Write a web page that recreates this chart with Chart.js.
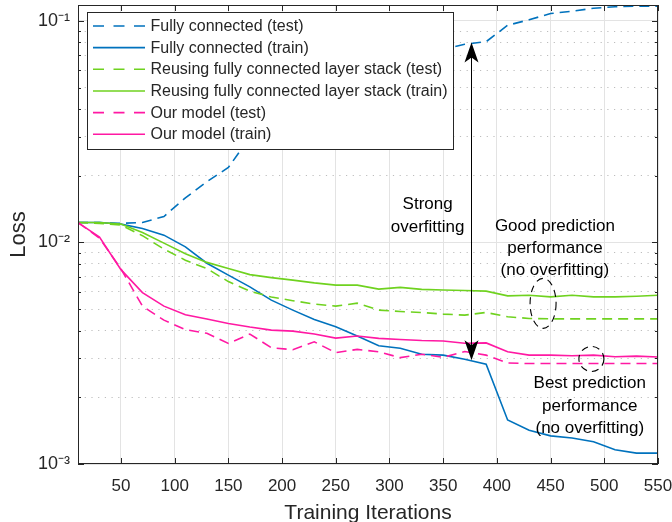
<!DOCTYPE html>
<html><head><meta charset="utf-8">
<script src="https://cdn.jsdelivr.net/npm/chart.js@4"></script>
<style>html,body{margin:0;padding:0;background:#fff}canvas{display:block}</style>
</head><body>
<canvas id="c" width="672" height="522"></canvas>
<script>
// ---- data ----
const iterations = [10,30,50,70,90,110,130,150,170,190,210,230,250,270,290,310,330,350,370,390,410,430,450,470,490,510,530,550];
const fcTest = [0.0123,0.0123,0.0122,0.0123,0.0131,0.0159,0.0188,0.0218,0.0299,0.0349,0.0404,0.0462,0.0518,0.0575,0.0631,0.0678,0.0715,0.0742,0.0785,0.0806,0.0956,0.1012,0.108,0.1106,0.1141,0.1159,0.1165,0.1165];
const fcTrain = [0.0123,0.0123,0.0121,0.01156,0.01079,0.00955,0.00806,0.00712,0.0063,0.00549,0.00495,0.00449,0.00416,0.00378,0.00342,0.00333,0.00313,0.0031,0.00297,0.00282,0.00158,0.00142,0.00134,0.00131,0.00126,0.00116,0.00112,0.00112];
const reuseTest = [0.0123,0.0122,0.01197,0.01073,0.00933,0.00832,0.00762,0.00666,0.00603,0.00567,0.00546,0.00527,0.00516,0.00532,0.00495,0.00488,0.00483,0.00475,0.0047,0.00483,0.00462,0.00454,0.00452,0.00452,0.00452,0.00452,0.00452,0.00452];
const reuseTrain = [0.0123,0.0123,0.0121,0.0111,0.00993,0.00889,0.00813,0.00763,0.00716,0.00694,0.00676,0.00657,0.00642,0.00642,0.00616,0.00627,0.00614,0.0061,0.00607,0.00603,0.00574,0.00578,0.00568,0.00578,0.00568,0.00568,0.00572,0.00578];
const ourTest = [0.0123,0.01046,0.0076,0.00516,0.00446,0.00404,0.00389,0.0035,0.00386,0.00335,0.00328,0.00356,0.00318,0.00329,0.00321,0.00302,0.00313,0.00303,0.00322,0.0031,0.00286,0.00284,0.00284,0.00284,0.00284,0.00284,0.00284,0.00284];
const ourTrain = [0.0123,0.01057,0.00754,0.00594,0.00516,0.00472,0.00451,0.00431,0.00415,0.00402,0.00398,0.00386,0.0037,0.00378,0.00369,0.00365,0.00361,0.00359,0.00351,0.00352,0.00321,0.0031,0.0031,0.00308,0.0031,0.00305,0.00307,0.00304];
const seriesNames = ['Fully connected (test)','Fully connected (train)','Reusing fully connected layer stack (test)','Reusing fully connected layer stack (train)','Our model (test)','Our model (train)'];
const xTickValues = [50,100,150,200,250,300,350,400,450,500,550];
const yTickValues = [0.001,0.002,0.003,0.004,0.005,0.006,0.007,0.008,0.009,0.01,0.02,0.03,0.04,0.05,0.06,0.07,0.08,0.09,0.1];
const yDecadeLabels = {'-3':'10\u207B\u00B3','-2':'10\u207B\u00B2','-1':'10\u207B\u00B9'};
const xTitle = 'Training Iterations';
const yTitle = 'Loss';
// annotations (data coordinates)
const arrowAt = {x: 376, top: 0.0799, bottom: 0.00294};
const noteStrong = {x: 335.5, y: 0.0132, lines: ['Strong','overfitting']};
const noteGood = {x: 454, y: 0.0094, lines: ['Good prediction','performance','(no overfitting)']};
const noteBest = {x: 486.5, y: 0.00183, lines: ['Best prediction','performance','(no overfitting)']};
const ringGood = {x: 443, y: 0.00531};
const ringBest = {x: 488, y: 0.00298};

// ---- styles ----
const BLUE = '#0072BD', GREEN = '#6FD21F', PINK = '#FF19A3', INK = '#262626';
const FONT = "'Liberation Sans', Arial, Helvetica, sans-serif";
const DASH = [10, 6];
Chart.defaults.font.family = FONT;
Chart.defaults.color = INK;

const seriesData = [fcTest, fcTrain, reuseTest, reuseTrain, ourTest, ourTrain];
const seriesColor = [BLUE, BLUE, GREEN, GREEN, PINK, PINK];
const seriesDashed = [true, false, true, false, true, false];

const datasets = seriesData.map((d, i) => ({
  label: seriesNames[i],
  data: iterations.map((t, j) => ({x: t, y: d[j]})),
  borderColor: seriesColor[i],
  backgroundColor: seriesColor[i],
  borderWidth: 1.6,
  borderDash: seriesDashed[i] ? DASH : [],
  pointRadius: 0,
  tension: 0,
  fill: false,
  order: 5 - i
}));

const isDecade = v => Math.abs(Math.log10(v) - Math.round(Math.log10(v))) < 1e-6;

const decor = {
  id: 'decor',
  afterDraw(chart) {
    const {ctx, chartArea: a, scales: {x, y}} = chart;
    ctx.save();
    // box
    ctx.strokeStyle = INK; ctx.lineWidth = 1; ctx.setLineDash([]);
    ctx.strokeRect(Math.round(a.left) + 0.5, Math.round(a.top) + 0.5, Math.round(a.right - a.left) - 1, Math.round(a.bottom - a.top) - 1);
    // inner ticks
    ctx.beginPath();
    xTickValues.forEach(v => {
      const px = Math.round(x.getPixelForValue(v)) + 0.5;
      ctx.moveTo(px, a.top); ctx.lineTo(px, a.top + 6);
      ctx.moveTo(px, a.bottom); ctx.lineTo(px, a.bottom - 6);
    });
    yTickValues.forEach(v => {
      const py = Math.round(y.getPixelForValue(v)) + 0.5;
      const L = isDecade(v) ? 6 : 3;
      ctx.moveTo(a.left, py); ctx.lineTo(a.left + L, py);
      ctx.moveTo(a.right, py); ctx.lineTo(a.right - L, py);
    });
    ctx.stroke();

    // legend
    const lx = 87.5, ly = 12.5, lw = 366, lh = 137;
    ctx.fillStyle = '#fff';
    ctx.fillRect(lx, ly, lw, lh);
    ctx.strokeStyle = INK; ctx.lineWidth = 1;
    ctx.strokeRect(lx, ly, lw, lh);
    ctx.font = '16px ' + FONT;
    ctx.textBaseline = 'middle'; ctx.textAlign = 'left';
    seriesNames.forEach((name, i) => {
      const cy = 26 + i * 21.65;
      ctx.strokeStyle = seriesColor[i]; ctx.lineWidth = 1.6;
      ctx.setLineDash(seriesDashed[i] ? [11, 9.5] : []);
      ctx.beginPath(); ctx.moveTo(93, cy); ctx.lineTo(145, cy); ctx.stroke();
      ctx.setLineDash([]);
      ctx.fillStyle = INK;
      ctx.fillText(name, 150.5, cy + 0.5);
    });

    // double arrow
    const ax = Math.round(x.getPixelForValue(arrowAt.x)) + 0.5;
    const at = y.getPixelForValue(arrowAt.top), ab = y.getPixelForValue(arrowAt.bottom);
    ctx.strokeStyle = '#000'; ctx.fillStyle = '#000'; ctx.lineWidth = 1;
    ctx.beginPath(); ctx.moveTo(ax, at + 10); ctx.lineTo(ax, ab - 10); ctx.stroke();
    const head = (tipY, dir) => {
      ctx.beginPath();
      ctx.moveTo(ax, tipY);
      ctx.lineTo(ax - 7, tipY + dir * 20);
      ctx.lineTo(ax, tipY + dir * 15);
      ctx.lineTo(ax + 7, tipY + dir * 20);
      ctx.closePath(); ctx.fill();
    };
    head(at, 1); head(ab, -1);

    // notes
    ctx.font = '17px ' + FONT; ctx.textAlign = 'center'; ctx.fillStyle = '#000';
    [noteStrong, noteGood, noteBest].forEach(n => {
      const cx = x.getPixelForValue(n.x), cy = y.getPixelForValue(n.y);
      const h = 22.3;
      n.lines.forEach((s, k) => ctx.fillText(s, cx, cy + (k - (n.lines.length - 1) / 2) * h));
    });

    // dashed rings
    ctx.setLineDash([7, 5]); ctx.lineWidth = 1.1; ctx.strokeStyle = '#000';
    ctx.beginPath();
    ctx.ellipse(x.getPixelForValue(ringGood.x), y.getPixelForValue(ringGood.y), 13, 25, 0, 0, Math.PI * 2);
    ctx.stroke();
    ctx.beginPath();
    ctx.ellipse(x.getPixelForValue(ringBest.x), y.getPixelForValue(ringBest.y), 12.5, 12.5, 0, 0, Math.PI * 2);
    ctx.stroke();
    ctx.restore();
  }
};

new Chart(document.getElementById('c'), {
  type: 'line',
  data: {datasets},
  options: {
    responsive: false,
    animation: false,
    devicePixelRatio: 1,
    layout: {padding: {left: 0, right: 14, top: 5, bottom: 0}},
    plugins: {legend: {display: false}, tooltip: {enabled: false}},
    scales: {
      x: {
        type: 'linear', min: 10, max: 550,
        afterBuildTicks: s => { s.ticks = xTickValues.map(v => ({value: v})); },
        afterFit: s => { s.height = 58; s.paddingLeft = 0; s.paddingRight = 0; },
        grid: {color: '#e3e3e3', lineWidth: 1, drawTicks: false, tickLength: 0},
        border: {display: false},
        ticks: {autoSkip: false, maxRotation: 0, padding: 12, font: {size: 17}, color: INK, callback: v => String(v)},
        title: {display: true, text: xTitle, font: {size: 21, lineHeight: 1}, color: INK, padding: {top: 0, bottom: -2}}
      },
      y: {
        type: 'logarithmic', min: 0.001, max: 0.118,
        afterBuildTicks: s => { s.ticks = yTickValues.map(v => ({value: v, major: isDecade(v)})); },
        afterFit: s => { s.width = 78; s.paddingTop = 0; s.paddingBottom = 0; },
        grid: {
          color: c => (c.tick && isDecade(c.tick.value)) ? '#e3e3e3' : '#bdbdbd',
          lineWidth: 1, drawTicks: false, tickLength: 0
        },
        border: {display: false, dash: c => (c.tick && !isDecade(c.tick.value)) ? [1.2, 5.5] : []},
        ticks: {
          autoSkip: false, padding: 8, font: {size: 18}, color: INK,
          callback: v => isDecade(v) ? (yDecadeLabels[String(Math.round(Math.log10(v)))] || '') : ''
        },
        title: {display: true, text: yTitle, font: {size: 22, lineHeight: 1}, color: INK, padding: {top: 8, bottom: 0}}
      }
    }
  },
  plugins: [decor]
});
</script>
</body></html>
